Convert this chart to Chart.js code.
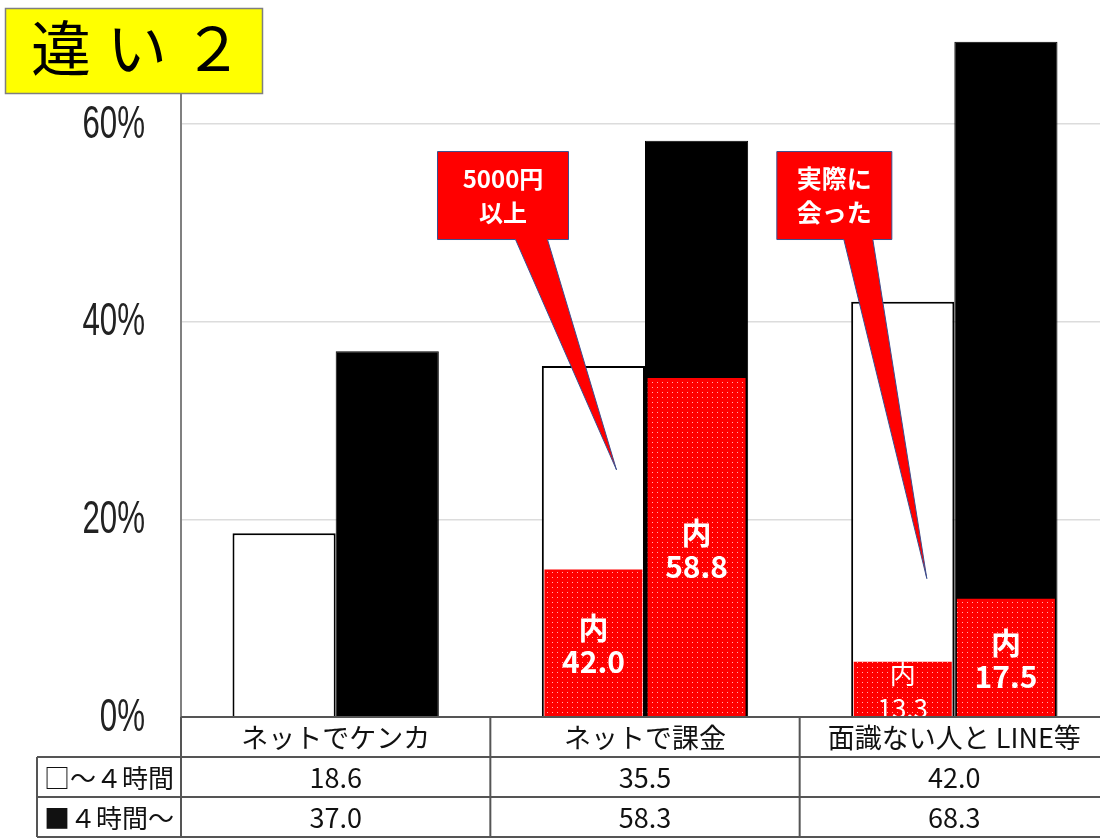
<!DOCTYPE html>
<html lang="ja">
<head>
<meta charset="utf-8">
<title>違い２</title>
<script src="https://cdn.jsdelivr.net/npm/chart.js@4.4.1/dist/chart.umd.min.js"></script>
<style>
  html, body { margin: 0; padding: 0; background: #fff; overflow: hidden; }
  #wrap { width: 1109px; height: 839px; }
</style>
</head>
<body>
<div id="wrap"><canvas id="graphic" width="1109" height="839"></canvas></div>
<script>
// categories and the two groups (percent of each group)
const categories = ["ネットでケンカ", "ネットで課金", "面識ない人と LINE等"];
const rowLabels = ["□～４時間", "■４時間～"];
const underFour = [18.6, 35.5, 42.0];
const overFour = [37.0, 58.3, 68.3];
// share of each bar that is marked in red (percent of that bar)
const underFourShare = [null, 42.0, 13.3];
const overFourShare = [null, 58.8, 17.5];
const yTicks = [0, 20, 40, 60];
const titleText = "違い２";
const calloutTexts = [["5000円", "以上"], ["実際に", "会った"]];
const calloutCategory = [1, 2];
const calloutTipValue = [25, 14];

const JP = "'Noto Sans CJK JP', 'Noto Sans', sans-serif";

// red part = share of the bar it sits in
const underFourRed = underFour.map((v, i) => underFourShare[i] == null ? null : v * underFourShare[i] / 100);
const overFourRed = overFour.map((v, i) => overFourShare[i] == null ? null : v * overFourShare[i] / 100);

const canvas = document.getElementById("graphic");

// red fill with small light dots
function dottedRed(ctx) {
  const c = document.createElement("canvas");
  c.width = 5; c.height = 5;
  const g = c.getContext("2d");
  g.fillStyle = "#ff0000";
  g.fillRect(0, 0, 5, 5);
  g.fillStyle = "#ffb0b0";
  g.fillRect(2, 2, 1, 1);
  return ctx.createPattern(c, "repeat");
}
const redFill = dottedRed(canvas.getContext("2d"));

// callout box and pointer layout (dx relative to category centre, y in axis units)
const calloutLayout = [
  { boxDx: -207.5, boxW: 131, top: 57.2, bottom: 48.3, baseDx: [-129.5, -97.5], tipDx: -28.5, size: 24 },
  { boxDx: -177.5, boxW: 115, top: 57.2, bottom: 48.3, baseDx: [-110.5, -81.5], tipDx: -27.5, size: 25 }
];

// narrow percent labels on the value axis
const yLabels = {
  id: "yLabels",
  afterDraw(chart) {
    const { ctx, chartArea: a, scales: { y } } = chart;
    ctx.save();
    ctx.fillStyle = "#222";
    ctx.font = "46px 'Liberation Sans', Arial, sans-serif";
    ctx.textAlign = "right";
    ctx.textBaseline = "middle";
    const sx = 0.68;
    y.ticks.forEach(t => {
      const py = y.getPixelForValue(t.value);
      ctx.save();
      ctx.translate(a.left - 36, py + 1);
      ctx.scale(sx, 1);
      ctx.fillText(t.value + "%", 0, 0);
      ctx.restore();
    });
    ctx.restore();
  }
};

const shareLabels = {
  id: "shareLabels",
  afterDatasetsDraw(chart) {
    const { ctx, chartArea: a } = chart;
    ctx.save();
    ctx.beginPath();
    ctx.rect(a.left, a.top, a.right - a.left, a.bottom - a.top);
    ctx.clip();
    ctx.fillStyle = "#fff";
    ctx.textAlign = "center";
    ctx.textBaseline = "middle";
    [[2, underFourShare], [3, overFourShare]].forEach(([di, shares]) => {
      chart.getDatasetMeta(di).data.forEach((bar, i) => {
        if (shares[i] == null) return;
        const h = bar.base - bar.y;
        const small = h < 80;
        ctx.font = small ? "26px " + JP : "bold 30px " + JP;
        const mid = (bar.y + bar.base) / 2 + 2;
        ctx.fillText("内", bar.x, mid - 17);
        ctx.fillText(shares[i].toFixed(1), bar.x, mid + 17);
      });
    });
    ctx.restore();
  }
};

const callouts = {
  id: "callouts",
  afterDatasetsDraw(chart) {
    const { ctx, scales: { x, y } } = chart;
    ctx.save();
    calloutLayout.forEach((c, k) => {
      const cx = x.getPixelForValue(calloutCategory[k]);
      const left = cx + c.boxDx, right = left + c.boxW;
      const top = y.getPixelForValue(c.top), bottom = y.getPixelForValue(c.bottom);
      const tipX = cx + c.tipDx, tipY = y.getPixelForValue(calloutTipValue[k]);
      ctx.beginPath();
      ctx.moveTo(left, top);
      ctx.lineTo(right, top);
      ctx.lineTo(right, bottom);
      ctx.lineTo(cx + c.baseDx[1], bottom);
      ctx.lineTo(tipX, tipY);
      ctx.lineTo(cx + c.baseDx[0], bottom);
      ctx.lineTo(left, bottom);
      ctx.closePath();
      ctx.fillStyle = "#ff0000";
      ctx.fill();
      ctx.strokeStyle = "#3b4f8f";
      ctx.lineWidth = 1;
      ctx.stroke();
      ctx.fillStyle = "#fff";
      ctx.font = "bold " + c.size + "px " + JP;
      ctx.textAlign = "center";
      ctx.textBaseline = "middle";
      const my = (top + bottom) / 2;
      ctx.fillText(calloutTexts[k][0], (left + right) / 2, my - 17);
      ctx.fillText(calloutTexts[k][1], (left + right) / 2, my + 17);
    });
    ctx.restore();
  }
};

// data table under the plot
const dataTable = {
  id: "dataTable",
  afterDraw(chart) {
    const { ctx, chartArea: a, scales: { x } } = chart;
    const rowH = 40;
    const r0 = a.bottom, r1 = r0 + rowH, r2 = r1 + rowH, r3 = r2 + rowH;
    const labelLeft = 37;
    const step = (a.right - a.left) / categories.length;
    ctx.save();
    ctx.strokeStyle = "#555";
    ctx.lineWidth = 2;
    ctx.beginPath();
    ctx.moveTo(a.left, r0); ctx.lineTo(a.right, r0);
    ctx.moveTo(labelLeft, r1); ctx.lineTo(a.right, r1);
    ctx.moveTo(labelLeft, r2); ctx.lineTo(a.right, r2);
    ctx.moveTo(labelLeft, r3); ctx.lineTo(a.right, r3);
    ctx.moveTo(labelLeft, r1); ctx.lineTo(labelLeft, r3);
    for (let i = 0; i <= categories.length; i++) {
      const xx = a.left + step * i;
      ctx.moveTo(xx, r0); ctx.lineTo(xx, r3);
    }
    ctx.stroke();

    ctx.fillStyle = "#111";
    ctx.font = "27px " + JP;
    ctx.textAlign = "center";
    ctx.textBaseline = "middle";
    categories.forEach((name, i) => {
      const cx = x.getPixelForValue(i);
      ctx.fillText(name, cx, r0 + 21);
      ctx.fillText(underFour[i].toFixed(1), cx, r1 + 21);
      ctx.fillText(overFour[i].toFixed(1), cx, r2 + 21);
    });
    ctx.font = "26px " + JP;
    ctx.fillText(rowLabels[0], (labelLeft + a.left) / 2, r1 + 21);
    ctx.fillText(rowLabels[1], (labelLeft + a.left) / 2, r2 + 21);
    ctx.restore();
  }
};

// yellow title box in the top left corner
const titleBox = {
  id: "titleBox",
  afterDraw(chart) {
    const ctx = chart.ctx;
    ctx.save();
    ctx.fillStyle = "#ffff00";
    ctx.fillRect(5, 8, 258, 86);
    ctx.strokeStyle = "#7f7f7f";
    ctx.lineWidth = 1.5;
    ctx.strokeRect(5.5, 8.5, 257, 85);
    ctx.fillStyle = "#000";
    ctx.font = "60px " + JP;
    ctx.letterSpacing = "16px";
    ctx.textAlign = "left";
    ctx.textBaseline = "middle";
    ctx.fillText(titleText, 31, 48);
    ctx.restore();
  }
};

new Chart(canvas, {
  type: "bar",
  data: {
    labels: categories,
    datasets: [
      { label: rowLabels[0], data: underFour, stack: "a", order: 1,
        backgroundColor: "#fff", borderColor: "#000", borderWidth: 2 },
      { label: rowLabels[1], data: overFour, stack: "b", order: 1,
        backgroundColor: "#000", borderColor: "#000", borderWidth: 1 },
      { label: "内 " + rowLabels[0], data: underFourRed, stack: "a", order: 0,
        backgroundColor: redFill, barPercentage: 0.95, borderWidth: 0 },
      { label: "内 " + rowLabels[1], data: overFourRed, stack: "b", order: 0,
        backgroundColor: redFill, barPercentage: 0.95, borderWidth: 0 }
    ]
  },
  options: {
    responsive: false,
    animation: false,
    layout: { padding: { top: 25, bottom: 122, left: 0, right: 0 } },
    datasets: { bar: { categoryPercentage: 0.667, barPercentage: 1 } },
    plugins: { legend: { display: false }, tooltip: { enabled: false } },
    scales: {
      x: { display: false, stacked: true },
      y: {
        min: 0, max: 70, stacked: false,
        afterBuildTicks: s => { s.ticks = yTicks.map(v => ({ value: v })); },
        afterFit: s => { s.width = 181; s.paddingTop = 0; s.paddingBottom = 0; },
        border: { color: "#808080", width: 2 },
        grid: { color: "#dcdcdc", lineWidth: 1.5, drawTicks: false },
        ticks: { display: false }
      }
    }
  },
  plugins: [shareLabels, callouts, dataTable, yLabels, titleBox]
});
</script>
</body>
</html>
